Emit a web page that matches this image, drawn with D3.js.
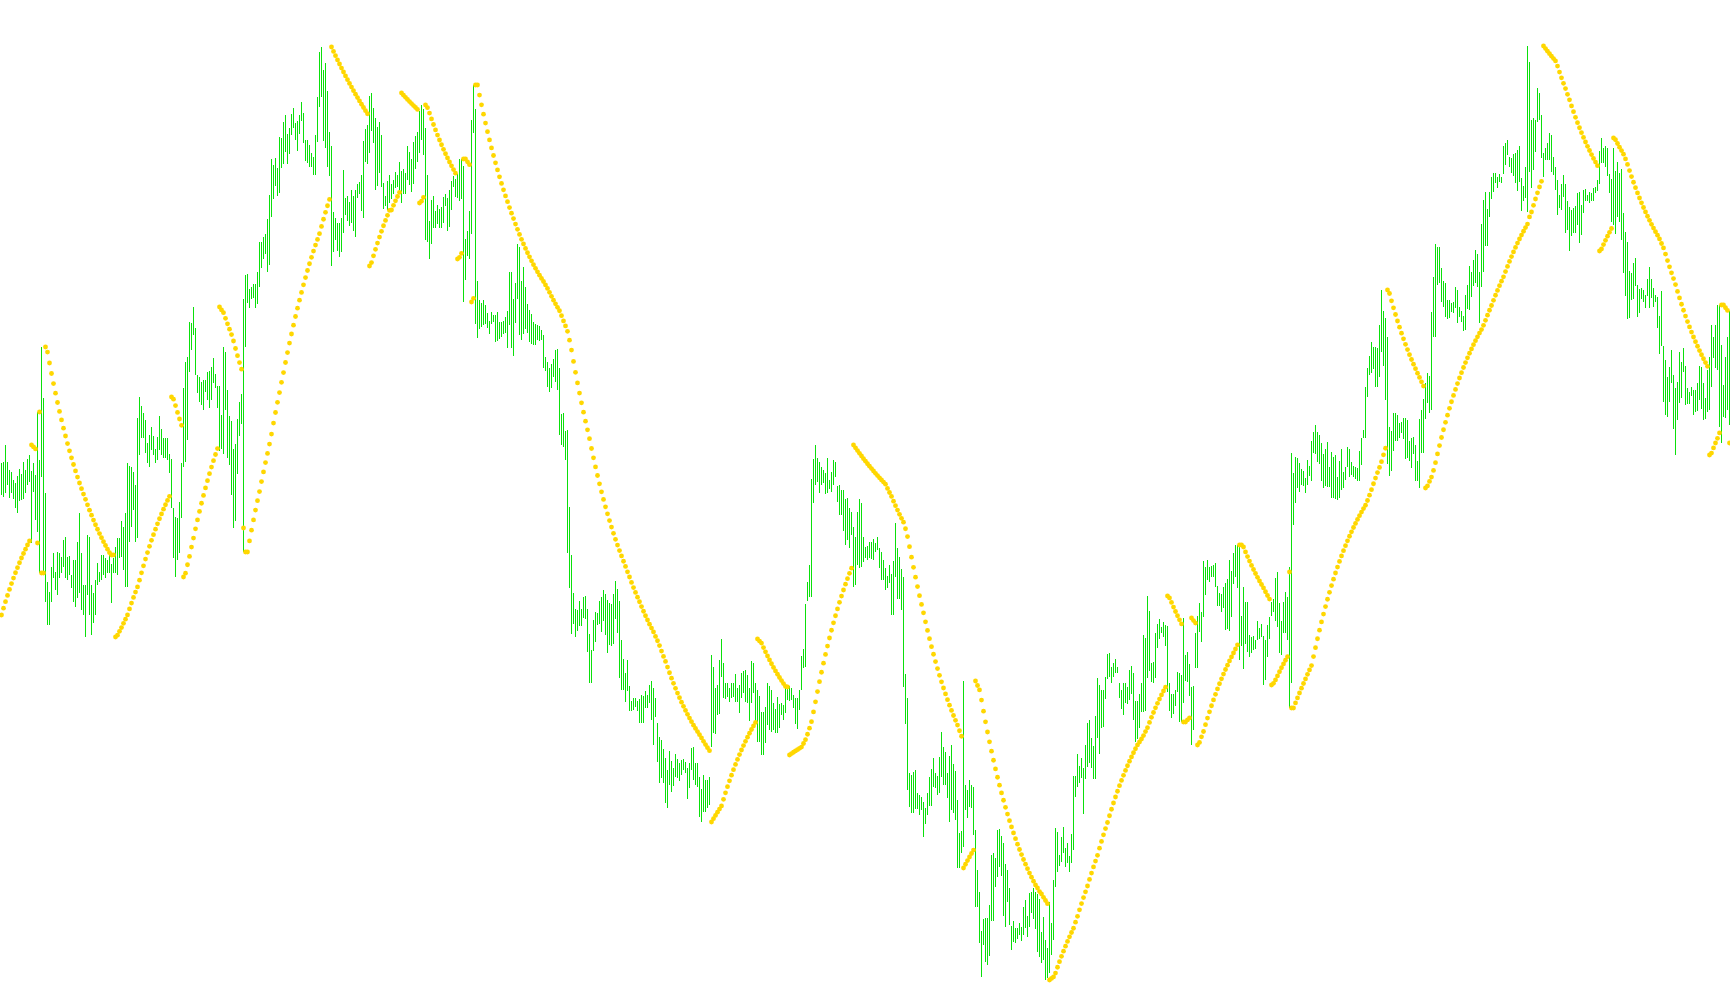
<!DOCTYPE html>
<html>
<head>
<meta charset="utf-8">
<script src="https://cdn.jsdelivr.net/npm/d3@7/dist/d3.min.js"></script>
<style>
  html, body { margin: 0; padding: 0; background: #ffffff; overflow: hidden; }
  svg { display: block; }
</style>
</head>
<body>
<script>
// Bar highs (price points), one per bar, left to right
const highs = [
537,538,555,538,530,528,520,517,524,531,526,538,530,541,545,529,537,525,588,540,
653,602,507,418,408,433,447,428,448,447,443,460,463,443,444,425,440,440,458,487,
447,415,415,465,463,415,407,420,437,428,445,445,442,440,445,436,442,453,462,462,
479,473,487,537,534,533,528,515,582,603,594,587,580,557,565,573,564,551,563,584,
571,562,562,562,546,541,492,483,482,498,537,612,638,643,678,677,693,672,625,623,
618,620,620,628,629,633,642,626,
614,614,585,653,648,610,584,579,551,556,581,598,606,701,725,726,711,713,716,716,
728,758,758,763,766,781,805,841,835,842,832,863,862,878,885,866,872,886,892,877,
879,885,898,887,860,860,855,847,843,865,903,948,953,930,937,909,868,854,788,782,
777,777,782,830,802,804,798,810,804,810,816,818,825,859,871,875,904,907,892,882,
873,878,865,817,804,819,825,816,820,828,825,838,829,831,827,854,848,841,858,864,
868,889,895,891,872,825,779,800,804,
789,795,791,793,803,806,802,810,819,824,821,826,841,841,834,761,769,789,880,915,
891,719,700,697,700,695,687,679,688,685,685,688,678,678,679,683,689,728,728,701,
717,756,753,719,733,713,696,690,686,678,676,675,674,670,665,643,638,632,636,641,
650,651,632,586,587,569,570,493,445,407,391,390,399,391,403,404,391,366,350,380,
388,387,399,403,410,406,400,397,396,406,419,411,399,360,341,327,340,314,299,302,
302,299,301,305,304,309,305,315,
319,312,302,277,263,260,251,242,230,249,239,232,246,241,237,240,241,238,232,237,
252,253,237,237,223,211,225,220,220,223,345,333,312,315,340,361,337,317,317,312,
317,317,326,312,315,327,329,330,325,312,339,337,317,310,304,288,288,293,317,314,
310,297,291,303,296,297,295,313,312,314,312,305,302,302,310,344,351,396,418,435,
521,541,555,542,538,533,530,527,542,520,528,540,538,514,515,510,510,501,502,492,
488,473,463,488,501,497,463,453,454,
458,458,461,457,463,452,448,440,432,424,435,426,439,477,452,443,431,423,326,302,
227,225,228,230,207,205,203,198,192,207,223,231,242,227,224,243,268,253,248,227,
244,255,236,229,200,167,169,319,215,210,220,215,213,170,130,108,69,81,82,82,
95,145,147,142,170,171,164,157,136,130,112,74,79,72,72,77,73,93,100,84,
107,108,112,108,106,101,68,83,60,52,98,77,120,172,168,145,163,173,152,157,
144,166,224,224,246,234,242,232,
255,277,280,262,254,284,322,315,310,310,323,346,347,333,337,341,333,317,310,317,
317,313,330,334,327,299,299,306,317,365,362,404,389,337,338,367,376,381,373,378,
375,374,317,306,306,310,328,327,325,382,345,348,336,313,314,367,384,397,388,439,
433,440,433,434,435,437,414,407,406,413,417,421,440,429,447,455,455,453,384,413,
398,398,365,363,364,360,379,372,376,364,360,375,383,398,401,422,428,397,379,398,
408,403,433,547,527,543,542,537,531,
529,522,540,534,559,568,575,568,565,557,546,551,558,533,548,543,545,523,539,551,
528,533,553,551,538,534,533,532,549,562,570,613,632,644,658,653,653,652,675,710,
689,682,663,573,569,587,587,585,577,578,582,582,580,559,562,563,555,539,581,590,
601,617,627,624,688,723,756,753,753,732,719,717,700,700,697,698,713,710,693,689,
684,705,715,734,728,740,750,746,728,776,800,808,791,808,823,827,827,823,826,823,
854,857,860,843,842,846,847,850,
854,822,814,833,954,938,880,882,880,912,907,885,847,852,857,867,865,843,833,820,
805,816,825,816,799,793,790,792,794,807,808,795,810,811,805,808,807,812,813,820,
849,862,852,854,852,826,821,852,829,838,827,831,787,768,758,729,727,737,742,715,
711,712,710,705,721,733,721,712,705,703,684,709,654,640,623,633,650,625,612,618,
648,638,652,634,612,608,613,610,610,617,634,633,617,602,630,643,675,663,675,695,
695,655,615,643,663,689
];

// Bar lows (price points)
const lows = [
505,503,507,515,502,507,501,492,487,499,500,501,507,515,518,457,508,480,468,427,
523,428,398,375,375,398,422,410,405,422,427,433,422,420,425,412,398,393,402,407,
390,385,363,405,385,365,377,385,415,418,420,425,422,427,427,397,427,427,425,442,
443,430,413,413,458,473,490,458,462,545,562,562,547,537,533,550,545,537,540,550,
545,542,542,540,527,492,442,423,440,447,482,533,538,560,628,650,665,625,607,598,
595,590,608,600,592,600,617,612,
592,549,551,546,590,542,535,505,472,479,526,564,576,448,653,697,692,701,702,692,
696,713,732,741,746,728,735,783,801,814,804,807,832,836,848,836,846,865,872,860,
849,866,879,857,839,837,833,833,825,825,858,893,903,859,852,833,824,734,748,760,
749,743,748,767,785,779,774,777,769,763,802,806,789,782,838,836,847,869,857,810,
814,827,813,791,794,790,797,801,806,812,813,810,797,806,806,820,815,808,816,831,
838,847,860,845,760,758,741,756,772,
772,776,772,772,777,794,769,773,790,813,803,802,799,801,698,720,744,741,766,867,
676,662,671,673,675,676,672,666,676,678,658,659,661,663,666,667,652,675,652,644,
677,701,665,660,666,671,667,658,656,655,655,660,659,660,632,629,613,608,612,623,
618,610,565,555,553,540,447,412,366,376,363,369,374,374,382,381,348,317,317,349,
358,375,376,368,379,365,347,355,354,356,381,367,322,310,310,298,309,289,289,290,
293,289,277,277,277,292,292,297,
280,255,283,238,217,222,217,197,192,215,208,214,223,222,219,225,230,227,201,212,
230,220,215,213,183,178,188,188,192,195,253,267,266,285,286,323,302,301,303,298,
302,303,298,298,287,302,307,298,297,279,297,307,279,258,258,245,245,257,275,270,
268,270,267,267,272,285,280,287,300,299,300,292,276,271,290,310,332,333,399,403,
403,497,515,518,507,515,517,506,507,511,508,515,523,498,485,485,469,455,460,452,
465,413,415,435,432,433,438,442,440,
442,441,440,448,450,432,420,420,410,412,417,385,385,423,401,401,390,313,276,210,
193,187,187,191,191,185,190,163,176,185,194,194,213,212,205,207,223,215,215,202,
178,190,187,180,132,132,147,153,190,182,193,192,165,93,93,57,23,55,38,35,
44,79,79,113,123,133,124,84,73,98,75,50,58,57,61,65,59,65,72,63,
73,87,81,71,48,43,37,40,20,22,27,45,60,113,128,134,138,147,133,137,
128,137,150,203,213,217,222,186,
221,233,237,232,221,221,262,246,272,273,301,321,323,317,323,327,327,302,291,285,
297,296,300,306,280,258,261,272,288,288,289,322,329,318,317,322,352,361,367,363,
354,308,289,282,286,294,308,278,278,297,319,318,304,255,270,332,332,368,358,383,
405,420,418,423,423,413,394,394,388,392,370,371,369,383,416,423,412,340,354,331,
356,348,343,347,350,351,360,361,363,315,320,343,361,384,388,379,373,347,345,367,
367,360,292,317,475,497,512,508,515,
514,507,515,524,519,547,546,538,536,519,512,514,513,513,502,502,501,500,502,510,
512,520,533,523,525,523,521,519,519,535,562,562,603,625,627,631,613,613,623,648,
634,600,536,524,529,549,559,559,562,567,561,541,542,539,532,546,519,519,512,547,
547,581,597,587,590,663,663,715,717,698,693,683,681,682,688,687,692,677,683,678,
669,670,691,690,703,714,717,713,677,713,728,754,754,783,801,808,817,812,818,817,
826,835,845,833,827,824,817,809,
818,789,799,802,788,828,812,830,848,878,880,842,823,840,840,840,828,825,810,785,
792,790,803,767,770,749,764,767,767,775,757,765,787,799,799,797,799,799,807,809,
816,837,837,833,824,807,778,775,766,783,778,760,727,704,681,682,700,701,714,683,
687,701,698,692,704,692,702,693,698,672,646,654,598,585,583,598,617,571,545,580,
597,602,628,595,596,596,604,585,588,589,600,591,580,581,588,590,613,642,632,630,
573,557,583,582,590,575
];

// Parabolic SAR settings: step, maximum, and the state at the first bar
const sarStep = 0.02;
const sarMax = 0.04;
const sarStart = [385, 555, 0.04]; // [SAR, extreme point, acceleration], uptrend
const priceDomain = [0, 1000];

const W = 1730, H = 1005;
const barColor = "#0be00b";
const sarColor = "#ffd700";

function parabolicSar(hi, lo) {
  const out = new Array(hi.length);
  let up = true, sar = sarStart[0], ep = sarStart[1], af = sarStart[2];
  out[0] = sar;
  for (let i = 1; i < hi.length; i++) {
    let s = sar + af * (ep - sar);
    if (up) {
      s = Math.min(s, lo[i - 1], i > 1 ? lo[i - 2] : lo[i - 1]);
      if (lo[i] < s) { up = false; s = ep; ep = lo[i]; af = sarStep; }
      else if (hi[i] > ep) { ep = hi[i]; af = Math.min(af + sarStep, sarMax); }
    } else {
      s = Math.max(s, hi[i - 1], i > 1 ? hi[i - 2] : hi[i - 1]);
      if (hi[i] > s) { up = true; s = ep; ep = hi[i]; af = sarStep; }
      else if (lo[i] < ep) { ep = lo[i]; af = Math.min(af + sarStep, sarMax); }
    }
    sar = s; out[i] = s;
  }
  return out;
}

const n = highs.length;
const bars = d3.range(n).map(i => ({ i, high: highs[i], low: lows[i] }));
const sarVals = parabolicSar(highs, lows);
const dots = sarVals.map((v, i) => ({ i, v }));

const x = d3.scaleLinear().domain([0, n - 1]).range([1, 1 + 2 * (n - 1)]);
const y = d3.scaleLinear().domain(priceDomain).range([1000, 0]);

const svg = d3.select("body").append("svg")
  .attr("width", W).attr("height", H)
  .attr("viewBox", `0 0 ${W} ${H}`);

svg.append("rect").attr("width", W).attr("height", H).attr("fill", "#ffffff");

svg.append("g").attr("class", "bars")
  .attr("shape-rendering", "crispEdges")
  .selectAll("rect").data(bars).join("rect")
  .attr("x", d => x(d.i))
  .attr("y", d => y(d.high))
  .attr("width", 1)
  .attr("height", d => Math.max(1, y(d.low) - y(d.high)))
  .attr("fill", barColor);

svg.append("g").attr("class", "sar")
  .selectAll("circle").data(dots).join("circle")
  .attr("cx", d => x(d.i) + 0.5)
  .attr("cy", d => y(d.v))
  .attr("r", 2.4)
  .attr("fill", sarColor);
</script>
</body>
</html>
